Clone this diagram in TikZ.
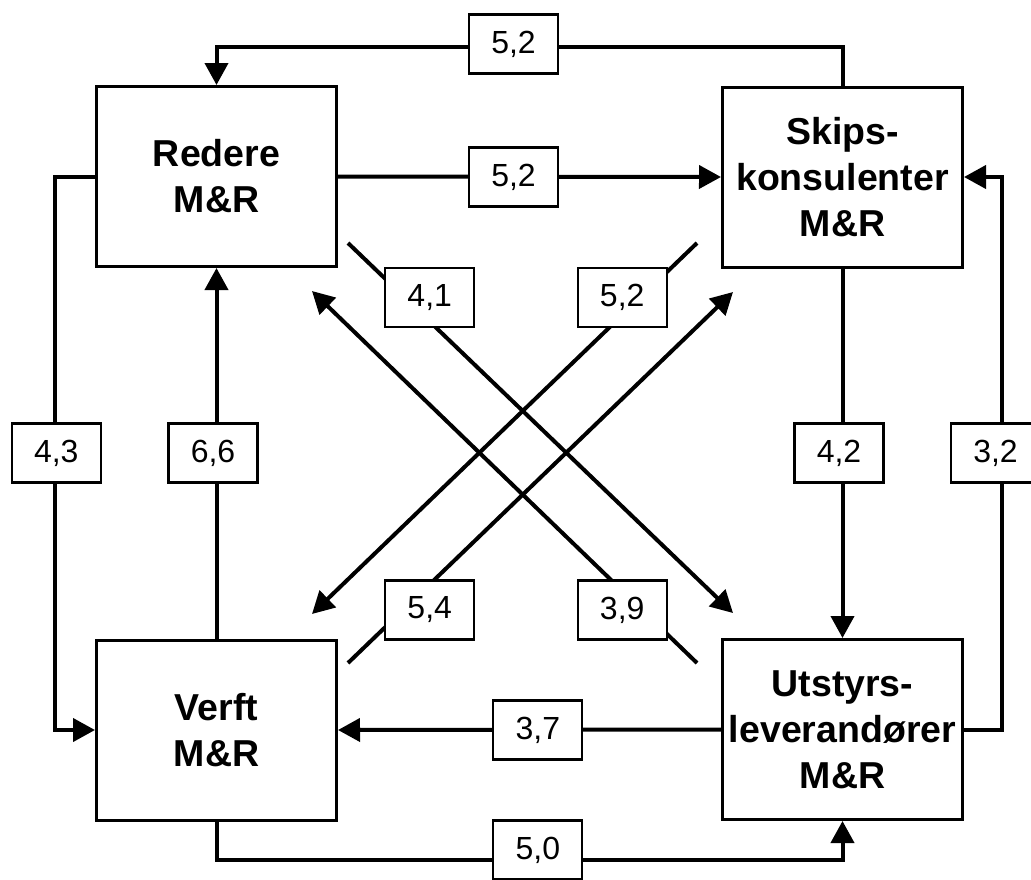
\documentclass[tikz,border=0pt]{standalone}
\usepackage{fontspec}
\setmainfont{Liberation Sans}
\usetikzlibrary{arrows.meta}
\begin{document}
\begin{tikzpicture}[x=1pt,y=-1pt,
  mainbox/.style={draw, line width=3pt, minimum width=240pt, minimum height=180pt, inner sep=0pt, align=center, font={\fontsize{37.5}{46}\selectfont\bfseries}},
  lbl/.style={draw, fill=white, line width=2.2pt, minimum width=89pt, minimum height=59pt, inner sep=0pt, font={\fontsize{32}{38}\selectfont}},
  conn/.style={line width=4pt},
  arr/.style={conn, -{Triangle[length=22pt,width=23pt]}}
]
\useasboundingbox (0,0) rectangle (1031,879);
\clip (0,0) rectangle (1031,879);

% main boxes
\node[mainbox] (redere) at (216.5,176.5) {Redere\\M\&R};
\node[mainbox] (skips) at (842.5,177) {Skips-\\konsulenter\\M\&R};
\node[mainbox] (verft) at (216.5,730) {Verft\\M\&R};
\node[mainbox] (utstyr) at (842.5,729.5) {Utstyrs-\\leverandører\\M\&R};

% orthogonal connectors
\draw[arr] (skips.north) -- ++(0,-39) -| (redere.north);
\draw[arr] (redere.east) -- (skips.west);
\draw[arr] (redere.west) -- ++(-40,0) |- (verft.west);
\draw[arr] (verft.north) -- (redere.south);
\draw[arr] (skips.south) -- (utstyr.north);
\draw[arr] (utstyr.east) -- ++(38,0) |- (skips.east);
\draw[arr] (utstyr.west) -- (verft.east);
\draw[arr] (verft.south) -- ++(0,38) -| (utstyr.south);

% diagonal connectors
\coordinate (a1) at (348,243); \coordinate (a2) at (733,613);
\coordinate (b1) at (697,663); \coordinate (b2) at (312,291);
\coordinate (c1) at (697,243); \coordinate (c2) at (312,614);
\coordinate (d1) at (348,663); \coordinate (d2) at (733,292);
\draw[arr] (a1) -- (a2);
\draw[arr] (b1) -- (b2);
\draw[arr] (c1) -- (c2);
\draw[arr] (d1) -- (d2);

% labels
\node[lbl] (l1) at (513.5,44) {5,2};
\node[lbl] (l2) at (513.5,177) {5,2};
\node[lbl] (l3) at (56.3,453) {4,3};
\node[lbl] (l4) at (213,453) {6,6};
\node[lbl] (l5) at (839,453) {4,2};
\node[lbl] (l6) at (995.5,453) {3,2};
\node[lbl] (l7) at (537.8,730) {3,7};
\node[lbl] (l8) at (537.8,850) {5,0};
\node[lbl] (l9) at (429.7,297.3) {4,1};
\node[lbl] (l10) at (622.2,297.3) {5,2};
\node[lbl] (l11) at (429.7,610) {5,4};
\node[lbl] (l12) at (622.2,610) {3,9};
\end{tikzpicture}
\end{document}
